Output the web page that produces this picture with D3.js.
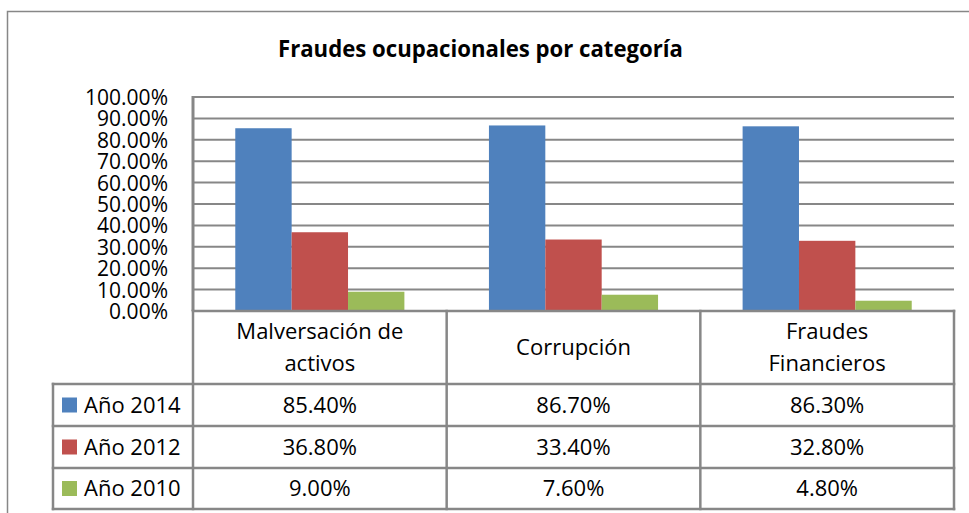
<!DOCTYPE html>
<html>
<head>
<meta charset="utf-8">
<script src="https://cdn.jsdelivr.net/npm/d3@7"></script>
<style>
  html, body { margin: 0; padding: 0; background: #ffffff; }
  svg { display: block; }
  text { font-family: "Open Sans", "Noto Sans", sans-serif; fill: #000; }
</style>
</head>
<body>
<svg id="chart" width="969" height="513"></svg>
<script>
const title = "Fraudes ocupacionales por categoría";
const categories = ["Malversación de activos", "Corrupción", "Fraudes Financieros"];
const categoryLines = [["Malversación de", "activos"], ["Corrupción"], ["Fraudes", "Financieros"]];
const seriesNames = ["Año 2014", "Año 2012", "Año 2010"];
const values2014 = [85.4, 86.7, 86.3];
const values2012 = [36.8, 33.4, 32.8];
const values2010 = [9.0, 7.6, 4.8];
const tickValues = [0, 10, 20, 30, 40, 50, 60, 70, 80, 90, 100];
const colors = ["#4F81BD", "#C0504D", "#9BBB59"];

const seriesValues = [values2014, values2012, values2010];
const gridColor = "#878787";

const svg = d3.select("#chart");
svg.append("rect").attr("width", 969).attr("height", 513).attr("fill", "#fff");

// outer chart frame
svg.append("path").attr("d", "M7.5,513 V11.5 H969")
  .attr("fill", "none").attr("stroke", gridColor).attr("stroke-width", 1.5);

// title
svg.append("text").attr("x", 480.5).attr("y", 57)
  .attr("text-anchor", "middle").attr("font-weight", "bold").attr("font-size", 24)
  .attr("textLength", 405).attr("lengthAdjust", "spacingAndGlyphs")
  .text(title);

const plot = { left: 193, right: 954, top: 97, bottom: 311 };

const x0 = d3.scaleBand().domain(categories).range([plot.left, plot.right]).padding(0);
const x1 = d3.scaleBand().domain(seriesNames).range([0, x0.bandwidth()]).paddingInner(0).paddingOuter(0.75);
const y = d3.scaleLinear().domain([0, 100]).range([plot.bottom, plot.top]);

// gridlines
svg.append("g").selectAll("line").data(tickValues.filter(d => d > 0)).join("line")
  .attr("x1", plot.left).attr("x2", plot.right)
  .attr("y1", d => y(d)).attr("y2", d => y(d))
  .attr("stroke", gridColor).attr("stroke-width", 2);

// y axis labels
const yAxis = d3.axisLeft(y).tickValues(tickValues).tickSize(0).tickPadding(0)
  .tickFormat(d => d3.format(".2%")(d / 100));
const yg = svg.append("g").attr("transform", `translate(${plot.left - 25},0)`).call(yAxis);
yg.select(".domain").remove();
yg.selectAll("text").attr("font-size", 21).attr("font-family", '"Open Sans", sans-serif')
  .attr("fill", "#000").attr("dy", "0.36em");

// bars
const data = [];
categories.forEach((c, i) => seriesNames.forEach((s, j) => data.push({ c, s, v: seriesValues[j][i], j })));
svg.append("g").selectAll("rect").data(data).join("rect")
  .attr("x", d => x0(d.c) + x1(d.s))
  .attr("width", x1.bandwidth())
  .attr("y", d => y(d.v))
  .attr("height", d => y(0) - y(d.v))
  .attr("fill", d => colors[d.j]);

// left axis line
svg.append("line").attr("x1", plot.left).attr("x2", plot.left)
  .attr("y1", plot.top - 1).attr("y2", plot.bottom)
  .attr("stroke", gridColor).attr("stroke-width", 3);

// data table
const tableLeft = 53;
const rowTops = [311, 384, 426, 468, 509];
const tg = svg.append("g");
const lineStyle = sel => sel.attr("stroke", gridColor).attr("stroke-width", 2.5).attr("stroke-linecap", "square");

// horizontal lines
tg.append("line").attr("x1", plot.left).attr("x2", plot.right).attr("y1", rowTops[0]).attr("y2", rowTops[0]).call(lineStyle);
rowTops.slice(1).forEach(r => {
  tg.append("line").attr("x1", tableLeft).attr("x2", plot.right).attr("y1", r).attr("y2", r).call(lineStyle);
});
// vertical lines
tg.append("line").attr("x1", tableLeft).attr("x2", tableLeft).attr("y1", rowTops[1]).attr("y2", rowTops[4]).call(lineStyle);
categories.forEach(c => {
  const xx = x0(c);
  tg.append("line").attr("x1", xx).attr("x2", xx).attr("y1", rowTops[0]).attr("y2", rowTops[4]).call(lineStyle);
});
tg.append("line").attr("x1", plot.right).attr("x2", plot.right).attr("y1", rowTops[0]).attr("y2", rowTops[4]).call(lineStyle);

// category headers
categories.forEach((c, i) => {
  const lines = categoryLines[i];
  const cx = x0(c) + x0.bandwidth() / 2;
  const cy = (rowTops[0] + rowTops[1]) / 2;
  const lh = 32;
  lines.forEach((l, k) => {
    tg.append("text").attr("x", cx).attr("y", cy + (k - (lines.length - 1) / 2) * lh)
      .attr("dy", "0.36em").attr("text-anchor", "middle").attr("font-size", 22).text(l);
  });
});

// legend rows + values
seriesNames.forEach((s, j) => {
  const top = rowTops[j + 1], bot = rowTops[j + 2];
  const cy = (top + bot) / 2;
  tg.append("rect").attr("x", 62).attr("y", cy - 7.5).attr("width", 15).attr("height", 15).attr("fill", colors[j]);
  tg.append("text").attr("x", 84).attr("y", cy).attr("dy", "0.36em").attr("font-size", 22).text(s);
  categories.forEach((c, i) => {
    tg.append("text").attr("x", x0(c) + x0.bandwidth() / 2).attr("y", cy).attr("dy", "0.36em")
      .attr("text-anchor", "middle").attr("font-size", 22)
      .text(d3.format(".2f")(seriesValues[j][i]) + "%");
  });
});
</script>
</body>
</html>
